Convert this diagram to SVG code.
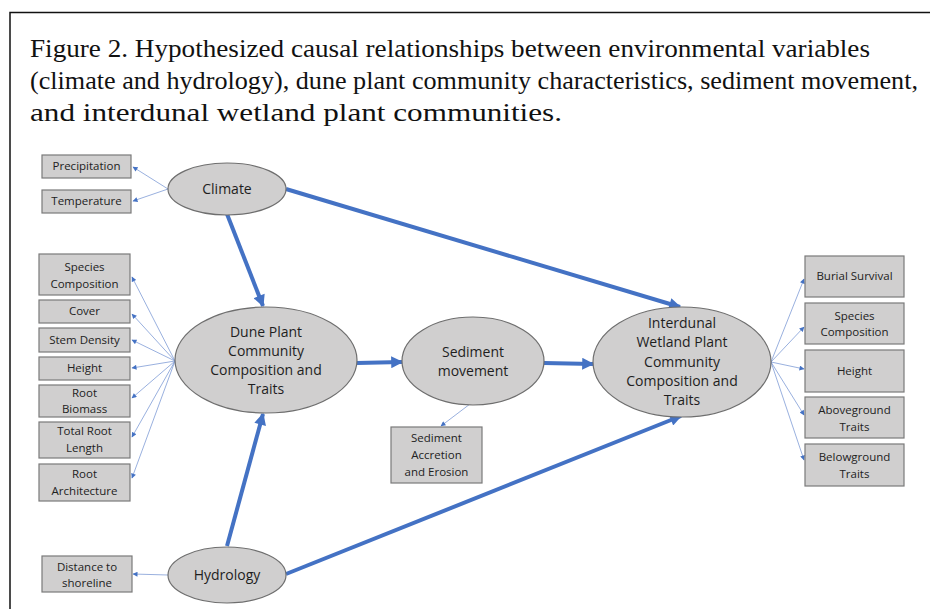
<svg xmlns="http://www.w3.org/2000/svg" width="930" height="609" viewBox="0 0 930 609">
<defs>
<style>
.title{font-family:"Liberation Serif","Times New Roman",Tinos,serif;font-size:25px;fill:#111}
.ell{fill:#d0cfcf;stroke:#6e6e6e;stroke-width:1.2}
.box{fill:#d0cfcf;stroke:#7a7a7a;stroke-width:1.2}
.bt{font-family:"Open Sans","Liberation Sans",sans-serif;font-size:11.5px;fill:#222;text-anchor:middle}
.et{font-family:"Open Sans","Liberation Sans",sans-serif;font-size:14px;fill:#1e1e1e;text-anchor:middle}
.thick{stroke:#4472c4;stroke-width:4;fill:none;marker-end:url(#big)}
.thin{stroke:#7f9cd6;stroke-width:0.8;fill:none;marker-end:url(#small)}
</style>
<marker id="big" viewBox="0 0 10 10" refX="9" refY="5" markerWidth="14" markerHeight="12" markerUnits="userSpaceOnUse" orient="auto">
<path d="M0,0 L10,5 L0,10 z" fill="#4472c4"/>
</marker>
<marker id="small" viewBox="0 0 10 10" refX="9" refY="5" markerWidth="6" markerHeight="5" markerUnits="userSpaceOnUse" orient="auto">
<path d="M0,0 L10,5 L0,10 z" fill="#4472c4"/>
</marker>
</defs>
<rect width="930" height="609" fill="#ffffff"/>
<path d="M10,609 V12.5 H930" fill="none" stroke="#111" stroke-width="1.5"/>
<g id="caption">
<text class="title" x="30" y="57" textLength="840" lengthAdjust="spacingAndGlyphs">Figure 2. Hypothesized causal relationships between environmental variables</text>
<text class="title" x="30" y="89" textLength="888" lengthAdjust="spacingAndGlyphs">(climate and hydrology),  dune plant community characteristics, sediment movement,</text>
<text class="title" x="30" y="121" textLength="532" lengthAdjust="spacingAndGlyphs">and interdunal wetland plant communities.</text>
</g>
<g id="connectors">
<line class="thick" x1="227" y1="214" x2="263" y2="306"/>
<line class="thick" x1="286" y1="189" x2="680" y2="307"/>
<line class="thick" x1="357" y1="363" x2="402" y2="362"/>
<line class="thick" x1="544" y1="363" x2="593" y2="364"/>
<line class="thick" x1="227" y1="546" x2="263" y2="414"/>
<line class="thick" x1="286" y1="574" x2="681" y2="416"/>
<line class="thin" x1="168" y1="189" x2="133" y2="167"/>
<line class="thin" x1="168" y1="189" x2="133" y2="201"/>
<line class="thin" x1="175" y1="361" x2="132" y2="277"/>
<line class="thin" x1="175" y1="361" x2="132" y2="314"/>
<line class="thin" x1="175" y1="361" x2="132" y2="340"/>
<line class="thin" x1="175" y1="361" x2="132" y2="368"/>
<line class="thin" x1="175" y1="361" x2="132" y2="398"/>
<line class="thin" x1="175" y1="361" x2="132" y2="437"/>
<line class="thin" x1="175" y1="361" x2="132" y2="478"/>
<line class="thin" x1="168" y1="575" x2="133" y2="574"/>
<line class="thin" x1="470" y1="404" x2="441" y2="426"/>
<line class="thin" x1="771" y1="362" x2="804" y2="279"/>
<line class="thin" x1="771" y1="362" x2="804" y2="327"/>
<line class="thin" x1="771" y1="362" x2="804" y2="369"/>
<line class="thin" x1="771" y1="362" x2="804" y2="415"/>
<line class="thin" x1="771" y1="362" x2="804" y2="460"/>
</g>
<g id="climate"><ellipse class="ell" cx="227" cy="189" rx="59" ry="26"/><text class="et" x="227" y="194">Climate</text></g>
<g id="hydrology"><ellipse class="ell" cx="227" cy="575" rx="59" ry="28"/><text class="et" x="227" y="580">Hydrology</text></g>
<g id="dune"><ellipse class="ell" cx="266" cy="360" rx="91" ry="53"/>
<text class="et" x="266" y="337">Dune Plant</text><text class="et" x="266" y="356">Community</text><text class="et" x="266" y="375">Composition and</text><text class="et" x="266" y="394">Traits</text></g>
<g id="sediment"><ellipse class="ell" cx="473" cy="361" rx="71" ry="44"/>
<text class="et" x="473" y="357">Sediment</text><text class="et" x="473" y="376">movement</text></g>
<g id="interdunal"><ellipse class="ell" cx="682" cy="362" rx="89" ry="55"/>
<text class="et" x="682" y="328">Interdunal</text><text class="et" x="682" y="347">Wetland Plant</text><text class="et" x="682" y="367">Community</text><text class="et" x="682" y="386">Composition and</text><text class="et" x="682" y="405">Traits</text></g>
<g id="precipitation"><rect class="box" x="42" y="155" width="89" height="23"/><text class="bt" x="86.5" y="170">Precipitation</text></g>
<g id="temperature"><rect class="box" x="42" y="190" width="89" height="23"/><text class="bt" x="86.5" y="205">Temperature</text></g>
<g id="dune-species"><rect class="box" x="39" y="254" width="91" height="41"/><text class="bt" x="84.5" y="271">Species</text><text class="bt" x="84.5" y="288">Composition</text></g>
<g id="cover"><rect class="box" x="39" y="300" width="91" height="23"/><text class="bt" x="84.5" y="315">Cover</text></g>
<g id="stem-density"><rect class="box" x="39" y="328" width="91" height="24"/><text class="bt" x="84.5" y="344">Stem Density</text></g>
<g id="dune-height"><rect class="box" x="39" y="357" width="91" height="23"/><text class="bt" x="84.5" y="372">Height</text></g>
<g id="root-biomass"><rect class="box" x="39" y="385" width="91" height="32"/><text class="bt" x="84.5" y="397">Root</text><text class="bt" x="84.5" y="413">Biomass</text></g>
<g id="total-root"><rect class="box" x="39" y="422" width="91" height="36"/><text class="bt" x="84.5" y="435">Total Root</text><text class="bt" x="84.5" y="452">Length</text></g>
<g id="root-architecture"><rect class="box" x="39" y="464" width="91" height="37"/><text class="bt" x="84.5" y="478">Root</text><text class="bt" x="84.5" y="495">Architecture</text></g>
<g id="distance"><rect class="box" x="42" y="556" width="90" height="36"/><text class="bt" x="87" y="571">Distance to</text><text class="bt" x="87" y="587">shoreline</text></g>
<g id="accretion"><rect class="box" x="391" y="427" width="91" height="56"/><text class="bt" x="436.5" y="442">Sediment</text><text class="bt" x="436.5" y="459">Accretion</text><text class="bt" x="436.5" y="476">and Erosion</text></g>
<g id="burial"><rect class="box" x="805" y="256" width="99" height="41"/><text class="bt" x="854.5" y="280">Burial Survival</text></g>
<g id="wet-species"><rect class="box" x="805" y="303" width="99" height="41"/><text class="bt" x="854.5" y="320">Species</text><text class="bt" x="854.5" y="336">Composition</text></g>
<g id="wet-height"><rect class="box" x="805" y="350" width="99" height="42"/><text class="bt" x="854.5" y="375">Height</text></g>
<g id="aboveground"><rect class="box" x="805" y="397" width="99" height="41"/><text class="bt" x="854.5" y="414">Aboveground</text><text class="bt" x="854.5" y="431">Traits</text></g>
<g id="belowground"><rect class="box" x="805" y="444" width="99" height="42"/><text class="bt" x="854.5" y="461">Belowground</text><text class="bt" x="854.5" y="478">Traits</text></g>
</svg>
